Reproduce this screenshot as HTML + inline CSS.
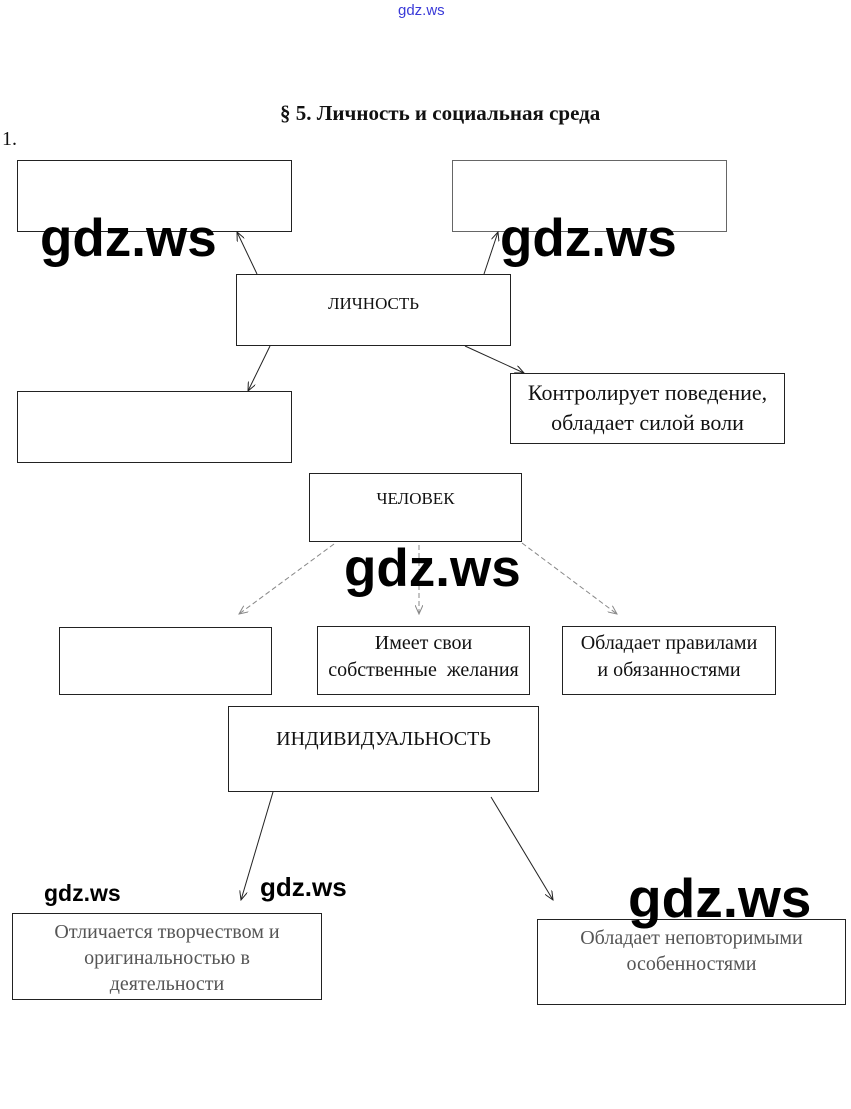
<!DOCTYPE html>
<html><head><meta charset="utf-8">
<style>
html,body{margin:0;padding:0;background:#fff;}
body{width:851px;height:1109px;position:relative;overflow:hidden;font-family:"Liberation Serif","Noto Serif CJK SC",serif;color:#111;}
.b{position:absolute;border:1px solid #222;box-sizing:border-box;text-align:center;font-size:19px;line-height:26px;white-space:nowrap;}
.t{position:absolute;white-space:nowrap;}
.w{position:absolute;font-family:"Liberation Sans",sans-serif;font-weight:bold;color:#000;white-space:nowrap;}
svg{position:absolute;left:0;top:0;}
</style></head><body>
<div class="t" style="left:398px;top:2px;font-family:'Liberation Sans',sans-serif;font-size:15px;color:#3a3ad8;">gdz.ws</div>
<div class="t" style="left:280px;top:101px;font-size:21px;font-weight:bold;">§ 5. Личность и социальная среда</div>
<div class="t" style="left:2px;top:128px;font-size:20px;">1.</div>

<div class="b" style="left:17px;top:160px;width:275px;height:72px;"></div>
<div class="b" style="left:452px;top:160px;width:275px;height:72px;border-color:#666;"></div>
<div class="b" style="left:236px;top:274px;width:275px;height:72px;padding-top:16px;font-size:17px;">ЛИЧНОСТЬ</div>
<div class="b" style="left:17px;top:391px;width:275px;height:72px;"></div>
<div class="b" style="left:510px;top:373px;width:275px;height:71px;padding-top:4px;font-size:22px;line-height:30px;">Контролирует поведение,<br>обладает силой воли</div>
<div class="b" style="left:309px;top:473px;width:213px;height:69px;padding-top:12px;font-size:17px;">ЧЕЛОВЕК</div>
<div class="b" style="left:59px;top:627px;width:213px;height:68px;"></div>
<div class="b" style="left:317px;top:626px;width:213px;height:69px;padding-top:3px;font-size:20px;line-height:27px;">Имеет свои<br>собственные&nbsp; желания</div>
<div class="b" style="left:562px;top:626px;width:214px;height:69px;padding-top:3px;font-size:20px;line-height:27px;">Обладает правилами<br>и обязанностями</div>
<div class="b" style="left:228px;top:706px;width:311px;height:86px;padding-top:19px;font-size:20px;">ИНДИВИДУАЛЬНОСТЬ</div>
<div class="b" style="left:12px;top:913px;width:310px;height:87px;padding-top:5px;font-size:20px;color:#555;">Отличается творчеством и<br>оригинальностью в<br>деятельности</div>
<div class="b" style="left:537px;top:919px;width:309px;height:86px;padding-top:5px;font-size:20px;color:#555;">Обладает неповторимыми<br>особенностями</div>

<svg width="851" height="1109" viewBox="0 0 851 1109">
<defs>
<marker id="a" markerWidth="10" markerHeight="8" refX="9" refY="4" orient="auto" markerUnits="userSpaceOnUse"><path d="M0,0 L9,4 L0,8" fill="none" stroke="#222" stroke-width="1"/></marker>
<marker id="g" markerWidth="10" markerHeight="8" refX="9" refY="4" orient="auto" markerUnits="userSpaceOnUse"><path d="M0,0 L9,4 L0,8" fill="none" stroke="#888" stroke-width="1"/></marker>
</defs>
<g stroke="#222" stroke-width="1" fill="none" marker-end="url(#a)">
<line x1="257" y1="274" x2="237" y2="232"/>
<line x1="484" y1="274" x2="498" y2="232"/>
<line x1="270" y1="346" x2="248" y2="391"/>
<line x1="465" y1="346" x2="524" y2="373"/>
<line x1="273" y1="792" x2="241" y2="900"/>
<line x1="491" y1="797" x2="553" y2="900"/>
</g>
<g stroke="#888" stroke-width="1" fill="none" stroke-dasharray="5,3" marker-end="url(#g)">
<line x1="334" y1="544" x2="239" y2="614"/>
<line x1="419" y1="545" x2="419" y2="614"/>
<line x1="522" y1="543" x2="617" y2="614"/>
</g>
</svg>

<div class="w" style="left:40px;top:208px;font-size:53px;">gdz.ws</div>
<div class="w" style="left:500px;top:208px;font-size:53px;">gdz.ws</div>
<div class="w" style="left:344px;top:538px;font-size:53px;">gdz.ws</div>
<div class="w" style="left:44px;top:880px;font-size:23px;">gdz.ws</div>
<div class="w" style="left:260px;top:872px;font-size:26px;">gdz.ws</div>
<div class="w" style="left:628px;top:866px;font-size:55px;">gdz.ws</div>
</body></html>
